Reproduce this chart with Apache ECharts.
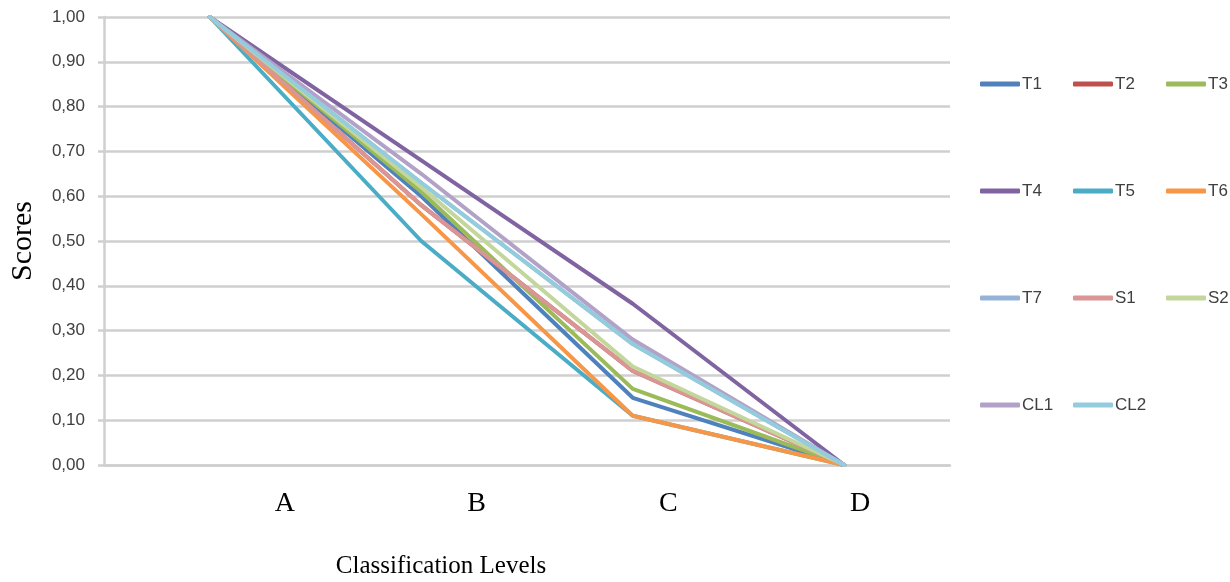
<!DOCTYPE html>
<html>
<head>
<meta charset="utf-8">
<script src="https://cdn.jsdelivr.net/npm/echarts@6/dist/echarts.min.js"></script>
<style>html,body{margin:0;padding:0;background:#fff;}#c{width:1230px;height:582px;}</style>
</head>
<body>
<div id="c"></div>
<script>
const categories = ['A', 'B', 'C', 'D'];
const yTicks = [0, 0.1, 0.2, 0.3, 0.4, 0.5, 0.6, 0.7, 0.8, 0.9, 1.0];
const seriesNames = ['T1', 'T2', 'T3', 'T4', 'T5', 'T6', 'T7', 'S1', 'S2', 'CL1', 'CL2'];
const T1 = [1.00, 0.60, 0.15, 0.00];
const T2 = [1.00, 0.58, 0.21, 0.00];
const T3 = [1.00, 0.61, 0.17, 0.00];
const T4 = [1.00, 0.68, 0.36, 0.00];
const T5 = [1.00, 0.50, 0.11, 0.00];
const T6 = [1.00, 0.56, 0.11, 0.00];
const T7 = [1.00, 0.63, 0.27, 0.00];
const S1 = [1.00, 0.58, 0.21, 0.00];
const S2 = [1.00, 0.62, 0.22, 0.00];
const CL1 = [1.00, 0.65, 0.28, 0.00];
const CL2 = [1.00, 0.63, 0.27, 0.00];
const seriesValues = [T1, T2, T3, T4, T5, T6, T7, S1, S2, CL1, CL2];
const colors = ['#4F81BD', '#C0504D', '#9BBB59', '#8064A2', '#4BACC6', '#F79646', '#95B3D7', '#D99694', '#C3D69B', '#B3A2C7', '#93CDDD'];
const legendColumns = [['T1', 'T4', 'T7', 'CL1'], ['T2', 'T5', 'S1', 'CL2'], ['T3', 'T6', 'S2']];

const gridColor = '#cfcfcf';
const sans = "'Liberation Sans Narrow', 'Liberation Sans', sans-serif";
const serif = "'Liberation Serif', 'Times New Roman', serif";

const chart = echarts.init(document.getElementById('c'), null, {renderer: 'canvas'});
const option = {
  animation: false,
  color: colors,
  grid: [
    {left: 104, right: 280, top: 17, bottom: 117, containLabel: false, outerBoundsMode: 'none'},
    {left: 189, right: 274, top: 17, bottom: 117, containLabel: false, outerBoundsMode: 'none'}
  ],
  xAxis: [
    {
      type: 'category', gridIndex: 0, data: categories, boundaryGap: true,
      axisLine: {show: true, lineStyle: {color: gridColor, width: 2.5}},
      axisTick: {show: false}, axisLabel: {show: false},
      name: 'Classification Levels', nameLocation: 'middle', nameGap: 89,
      nameTextStyle: {fontFamily: serif, fontSize: 25, color: '#000', padding: [0, 172, 0, 0]}
    },
    {
      type: 'category', gridIndex: 1, data: categories, boundaryGap: true,
      axisLine: {show: false}, axisTick: {show: false},
      axisLabel: {show: true, margin: 25, fontFamily: serif, fontSize: 28, color: '#000'}
    }
  ],
  yAxis: [
    {
      type: 'value', gridIndex: 0, min: 0, max: 1, interval: 0.1,
      axisLine: {show: true, lineStyle: {color: gridColor, width: 2.5}},
      axisTick: {show: true, length: 6, lineStyle: {color: gridColor, width: 2.5}},
      splitLine: {show: true, lineStyle: {color: gridColor, width: 2.5}},
      axisLabel: {
        margin: 19, fontFamily: sans, fontSize: 17, color: '#404040',
        formatter: v => {
          const t = yTicks.find(x => Math.abs(x - v) < 1e-9);
          return (t !== undefined ? t : v).toFixed(2).replace('.', ',');
        }
      },
      name: 'Scores', nameLocation: 'middle', nameGap: 66, nameRotate: 90,
      nameTextStyle: {fontFamily: serif, fontSize: 30, color: '#000'}
    },
    {type: 'value', gridIndex: 1, min: 0, max: 1, show: false}
  ],
  legend: legendColumns.map((col, i) => ({
    data: col,
    orient: 'vertical',
    left: 980 + i * 93,
    top: 74,
    padding: 0,
    icon: 'roundRect',
    itemWidth: 40,
    itemHeight: 5,
    itemGap: 87,
    textStyle: {fontFamily: sans, fontSize: 17, lineHeight: 20, height: 20, color: '#404040', padding: [0, 0, 0, -3]}
  })),
  series: seriesNames.map((n, i) => ({
    name: n,
    type: 'line',
    xAxisIndex: 0,
    yAxisIndex: 0,
    data: seriesValues[i],
    symbol: 'none',
    lineStyle: {width: 4, color: colors[i], cap: 'round', join: 'round'},
    itemStyle: {color: colors[i]}
  }))
};
chart.setOption(option);
</script>
</body>
</html>
